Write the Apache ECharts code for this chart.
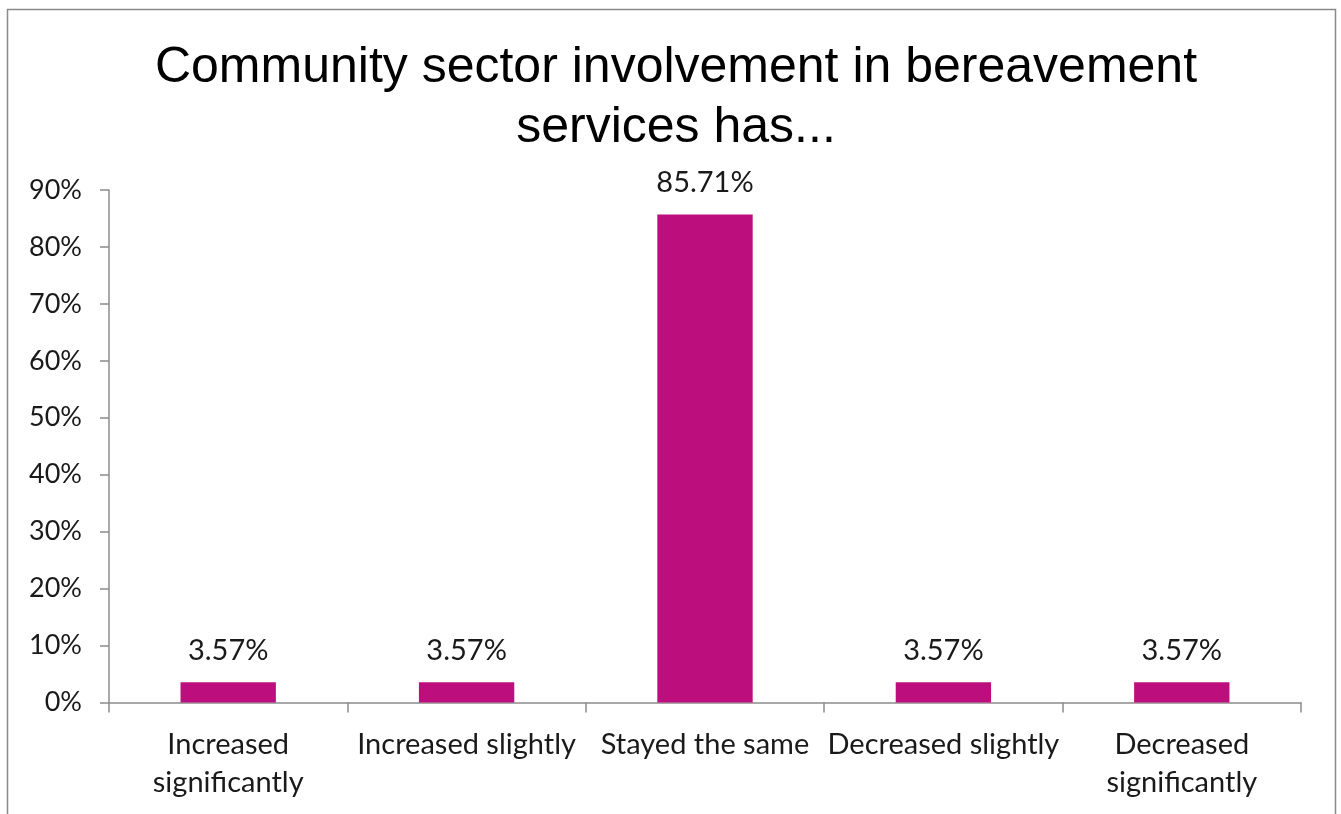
<!DOCTYPE html>
<html>
<head>
<meta charset="utf-8">
<script src="https://cdn.jsdelivr.net/npm/echarts@6/dist/echarts.min.js"></script>
<style>
  html, body { margin: 0; padding: 0; background: #fff; }
  #chart { width: 1341px; height: 814px; }
</style>
</head>
<body>
<div id="chart"></div>
<script>
// Survey responses: change in community sector involvement
const categories = [
  'Increased\nsignificantly',
  'Increased slightly',
  'Stayed the same',
  'Decreased slightly',
  'Decreased\nsignificantly'
];
const shares = [3.57, 3.57, 85.71, 3.57, 3.57];
const yTicks = [0, 10, 20, 30, 40, 50, 60, 70, 80, 90];

const labelFont = 'Lato, "Open Sans", sans-serif';
const axisGray = '#8c8c8c';

const chart = echarts.init(document.getElementById('chart'));
chart.setOption({
  backgroundColor: '#ffffff',
  animation: false,
  graphic: [{
    type: 'rect',
    shape: { x: 7.5, y: 9.5, width: 1328, height: 900 },
    style: { fill: 'none', stroke: '#8a8a8a', lineWidth: 1.5 },
    silent: true
  }],
  title: {
    text: 'Community sector involvement in bereavement\nservices has...',
    left: 671,
    top: 33,
    textAlign: 'center',
    textStyle: {
      fontFamily: '"Liberation Sans", Arial, sans-serif',
      fontWeight: 'normal',
      fontSize: 50,
      lineHeight: 60,
      color: '#000',
      align: 'center'
    }
  },
  grid: { left: 109, right: 40, top: 190, bottom: 111.5, containLabel: false },
  xAxis: {
    type: 'category',
    data: categories,
    boundaryGap: true,
    axisLine: { lineStyle: { color: axisGray, width: 1.5 } },
    axisTick: { show: true, length: 10, alignWithLabel: false, lineStyle: { color: axisGray, width: 1.5 } },
    axisLabel: {
      interval: 0,
      margin: 23,
      fontFamily: labelFont,
      fontSize: 29,
      lineHeight: 38,
      color: '#1a1a1a'
    }
  },
  yAxis: {
    type: 'value',
    min: yTicks[0],
    max: yTicks[yTicks.length - 1],
    interval: 10,
    splitLine: { show: false },
    axisLine: { show: true, lineStyle: { color: axisGray, width: 1.5 } },
    axisTick: { show: true, length: 9, lineStyle: { color: axisGray, width: 1.5 } },
    axisLabel: {
      margin: 27,
      formatter: v => v + '%',
      fontFamily: labelFont,
      fontSize: 27,
      color: '#1a1a1a'
    }
  },
  series: [{
    type: 'bar',
    data: shares,
    barWidth: '40%',
    itemStyle: { color: '#bc0e7d' },
    label: {
      show: true,
      position: 'top',
      distance: 17,
      formatter: p => p.value.toFixed(2) + '%',
      fontFamily: labelFont,
      fontSize: 29,
      color: '#1a1a1a'
    }
  }]
});
</script>
</body>
</html>
